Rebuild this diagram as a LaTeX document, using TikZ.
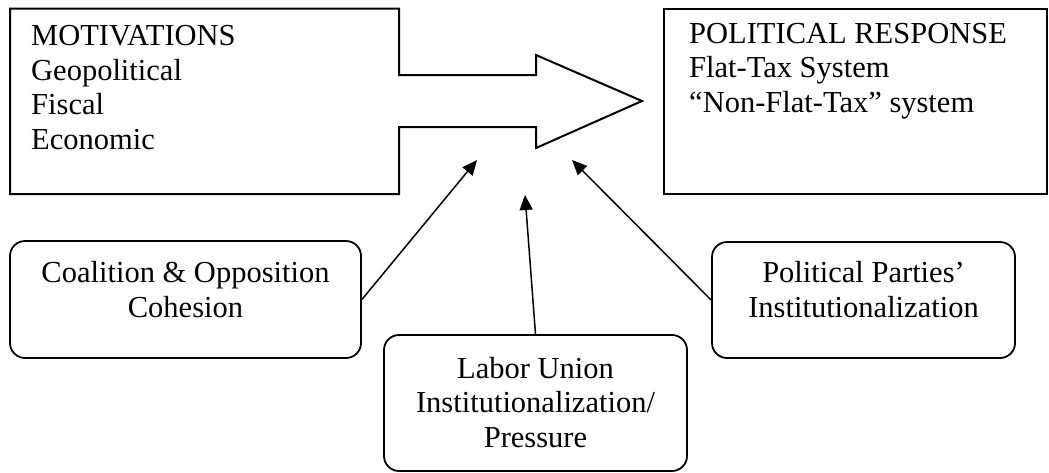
\documentclass[tikz,border=0pt]{standalone}
\usepackage{fontspec}
\setmainfont{Liberation Serif}
\usetikzlibrary{arrows.meta}
\begin{document}
\begin{tikzpicture}[x=1pt,y=-1pt,
  txt/.style={inner sep=0pt, font=\fontsize{30.5}{34.5}\selectfont},
  rbox/.style={draw, line width=1.8pt, rounded corners=15pt, inner sep=0pt},
  sqbox/.style={draw, line width=2pt, inner sep=0pt},
  conn/.style={line width=1.5pt, -{Triangle[length=15pt,width=13pt]}}]
\useasboundingbox (0,0) rectangle (1049,472);
% motivations box fused with the big arrow
\draw[line width=2pt, line join=miter]
  (10,8.5) -- (399,8.5) -- (399,75) -- (536,75) -- (536,55) -- (642,101)
  -- (536,148) -- (536,127) -- (399,127) -- (399,194) -- (10,194) -- cycle;
% (anchor base = baseline of the last line)
\node[txt, align=left, anchor=base west] (mot) at (31,149)
  {MOTIVATIONS\\Geopolitical\\Fiscal\\Economic};
% political response box
\node[sqbox, minimum width=383pt, minimum height=185.5pt] (resp) at (855.5,101.25) {};
\node[txt, align=left, anchor=base west] (resptxt) at (689,112)
  {POLITICAL RESPONSE\\Flat-Tax System\\“Non-Flat-Tax” system};
% factor boxes
\node[rbox, minimum width=351pt, minimum height=117pt] (coal) at (185.5,299.5) {};
\node[txt, align=center, anchor=base] (coaltxt) at (185.5,317)
  {Coalition \& Opposition\\Cohesion};
\node[rbox, minimum width=303pt, minimum height=136pt] (lab) at (535.5,403) {};
\node[txt, align=center, anchor=base] (labtxt) at (535.5,447)
  {Labor Union\\Institutionalization/\\Pressure};
\node[rbox, minimum width=303pt, minimum height=116pt] (pol) at (863.5,300) {};
\node[txt, align=center, anchor=base] (poltxt) at (863.5,317)
  {Political Parties’\\Institutionalization};
% arrow targets
\coordinate (t1) at (477,160);
\coordinate (t2) at (525,195);
\coordinate (t3) at (572,160);
\draw[conn] (coal.east) -- (t1);
\draw[conn] (lab.north) -- (t2);
\draw[conn] (pol.west) -- (t3);
\end{tikzpicture}
\end{document}
